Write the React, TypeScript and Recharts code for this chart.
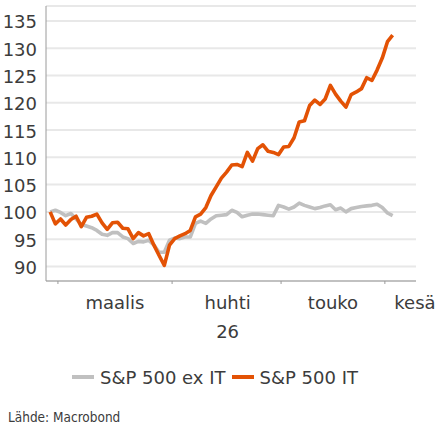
import React from 'react';
import { LineChart, Line, XAxis, YAxis, CartesianGrid, Legend } from 'recharts';

// Trading-day index 0..66 (26 Feb 2026 .. 2 Jun 2026), indexed to 100
const spxExIT: number[] = [
  100.0, 100.3, 99.9, 99.3, 99.7, 98.7, 97.7, 97.4, 97.1, 96.6,
  95.9, 95.7, 96.2, 96.2, 95.4, 95.1, 94.2, 94.6, 94.5, 94.8,
  93.9, 92.6, 92.6, 94.8, 95.2, 95.1, 95.4, 95.4, 97.9, 98.3,
  97.9, 98.7, 99.3, 99.4, 99.5, 100.3, 99.9, 99.1, 99.4, 99.6,
  99.6, 99.5, 99.4, 99.3, 101.2, 100.9, 100.5, 100.9, 101.6, 101.2,
  100.9, 100.6, 100.8, 101.1, 101.3, 100.4, 100.7, 100.0, 100.6, 100.8,
  101.0, 101.1, 101.2, 101.4, 100.8, 99.8, 99.3,
];
const spxIT: number[] = [
  100.0, 97.8, 98.7, 97.6, 98.6, 99.2, 97.3, 99.0, 99.2, 99.6,
  98.0, 96.8, 98.0, 98.1, 97.0, 96.9, 95.1, 96.2, 95.6, 96.0,
  93.9, 92.0, 90.2, 93.9, 95.1, 95.6, 96.0, 96.6, 99.1, 99.6,
  100.8, 103.0, 104.6, 106.2, 107.3, 108.6, 108.7, 108.3, 110.9, 109.3,
  111.6, 112.3, 111.1, 110.9, 110.5, 111.9, 112.0, 113.6, 116.5, 116.7,
  119.5, 120.5, 119.7, 120.7, 123.2, 121.6, 120.3, 119.2, 121.5, 122.0,
  122.6, 124.6, 124.1, 126.0, 128.2, 131.2, 132.4,
];

// Month boundaries (between trading days) and label positions
const monthBoundaries: number[] = [1.5, 23.5, 44.5, 64.5];
const monthLabelPos: number[] = [12.5, 34.2, 54.5, 70.3];
const monthLabels: string[] = ['maalis', 'huhti', 'touko', 'kesä'];
const yearLabels: string[] = ['', '26', '', ''];
const yTicks: number[] = [90, 95, 100, 105, 110, 115, 120, 125, 130, 135];

const seriesNames = ['S&P 500 ex IT', 'S&P 500 IT'];
const seriesColors = ['#c0c0c0', '#e35205'];

const data = spxExIT.map((v, i) => ({ i, exIT: v, IT: spxIT[i] }));

const FONT = "'DejaVu Sans', sans-serif";
const TEXT = '#3c3c3c';

const MonthTick = (props: any) => {
  const { x, y, payload } = props;
  const k = monthLabelPos.indexOf(payload.value);
  if (k < 0) return null;
  return (
    <g>
      <text x={x} y={y + 27.3} textAnchor="middle" fontFamily={FONT} fontSize={18} fill={TEXT}>
        {monthLabels[k]}
      </text>
      {yearLabels[k] ? (
        <text x={x} y={y + 55.7} textAnchor="middle" fontFamily={FONT} fontSize={18} fill={TEXT}>
          {yearLabels[k]}
        </text>
      ) : null}
    </g>
  );
};

const YTick = (props: any) => {
  const { x, y, payload } = props;
  return (
    <text x={x} y={y + 7.5} textAnchor="end" fontFamily={FONT} fontSize={18} fill={TEXT}>
      {payload.value}
    </text>
  );
};

const LegendContent = () => (
  <div style={{ height: 30, display: 'flex', alignItems: 'center', paddingLeft: 72, fontFamily: FONT, fontSize: 18, color: TEXT }}>
    {seriesNames.map((n, k) => (
      <div key={n} style={{ display: 'flex', alignItems: 'center', marginRight: 6 }}>
        <span style={{ display: 'inline-block', width: 22, height: 4, background: seriesColors[k], marginRight: 6 }} />
        <span style={{ whiteSpace: 'nowrap' }}>{n}</span>
      </div>
    ))}
  </div>
);

export default function App() {
  return (
    <div style={{ position: 'absolute', left: 0, top: 0, width: 442, height: 430, background: '#fff' }}>
      <LineChart width={442} height={430} data={data} margin={{ top: 6, right: 26, left: 0, bottom: 38 }}>
        <CartesianGrid vertical={false} stroke="#e8e8e8" strokeWidth={2} />
        <XAxis
          xAxisId={0}
          dataKey="i"
          type="number"
          domain={[-0.8, 70.5]}
          allowDataOverflow
          ticks={monthBoundaries}
          tickFormatter={() => ''}
          tickSize={3}
          height={1}
          stroke="#9a9a9a"
          axisLine={{ stroke: '#9a9a9a' }}
          tickLine={{ stroke: '#9a9a9a' }}
        />
        <XAxis
          xAxisId="lbl"
          dataKey="i"
          type="number"
          domain={[-0.8, 70.5]}
          allowDataOverflow
          ticks={monthLabelPos}
          axisLine={false}
          tickLine={false}
          tickSize={0}
          tickMargin={0}
          height={80}
          interval={0}
          tick={<MonthTick />}
        />
        <YAxis
          domain={[87.33, 137.75]}
          allowDataOverflow
          ticks={yTicks}
          width={46}
          tickLine={false}
          tickSize={0}
          tickMargin={9}
          interval={0}
          axisLine={{ stroke: '#9a9a9a' }}
          tick={<YTick />}
        />
        <Legend verticalAlign="bottom" content={<LegendContent />} />
        <Line
          type="linear"
          dataKey="exIT"
          name={seriesNames[0]}
          stroke={seriesColors[0]}
          strokeWidth={3.6}
          strokeLinejoin="round"
          dot={false}
          isAnimationActive={false}
        />
        <Line
          type="linear"
          dataKey="IT"
          name={seriesNames[1]}
          stroke={seriesColors[1]}
          strokeWidth={3.6}
          strokeLinejoin="round"
          dot={false}
          isAnimationActive={false}
        />
      </LineChart>
      <div style={{ position: 'absolute', left: 8, top: 409, fontFamily: "'DejaVu Sans Condensed', 'DejaVu Sans', sans-serif", fontStretch: 'condensed', fontSize: 13.5, color: TEXT, whiteSpace: 'nowrap' }}>
        Lähde: Macrobond
      </div>
    </div>
  );
}
